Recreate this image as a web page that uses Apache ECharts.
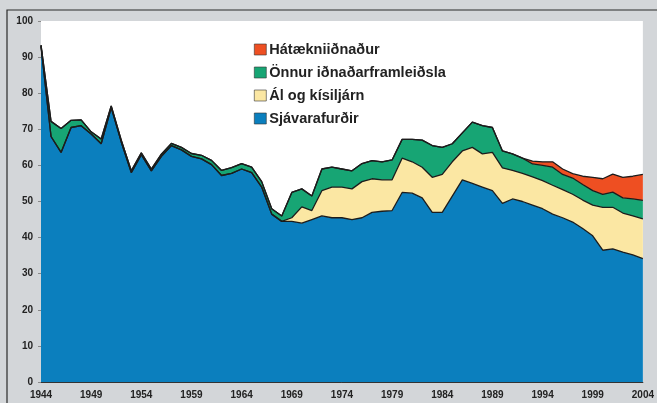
<!DOCTYPE html>
<html>
<head>
<meta charset="utf-8">
<script src="https://cdn.jsdelivr.net/npm/echarts@6/dist/echarts.min.js"></script>
<style>
  html, body { margin: 0; padding: 0; background: #d3d6d9; }
  #chart { width: 657px; height: 403px; }
</style>
</head>
<body>
<div id="chart"></div>
<script>
// Ár 1944-2004
const years = [];
for (let y = 1944; y <= 2004; y++) years.push(String(y));

// Hlutdeild í vöruútflutningi (%), lesið af mynd
const sjavarafurdir = [
  93, 68, 63.6, 70.5, 71, 68.7, 66, 76, 66.5, 58,
  63, 58.5, 62.5, 65.5, 64.3, 62.5, 61.8, 60.2, 57.2, 57.8,
  59, 58, 54, 46.5, 44.5, 44.5, 44, 45, 46, 45.5,
  45.5, 45, 45.5, 47, 47.3, 47.5, 52.5, 52.3, 51, 47,
  47, 51.5, 56, 55, 54, 53, 49.5, 50.7, 50, 49,
  48, 46.5, 45.5, 44.3, 42.5, 40.5, 36.5, 36.9, 36, 35.2,
  34.2
];
const alKisiljarn = [
  0, 0, 0, 0, 0, 0, 0, 0, 0, 0,
  0, 0, 0, 0, 0, 0, 0, 0, 0, 0,
  0, 0, 0, 0, 0, 1, 4.5, 2.5, 7, 8.5,
  8.5, 8.5, 10, 9.3, 8.7, 8.5, 9.5, 8.7, 8.5, 9.7,
  10.5, 9.5, 8, 10, 9.2, 10.6, 9.8, 7.9, 7.8, 7.8,
  7.8, 8, 7.8, 7.7, 7.9, 8.5, 11.9, 11.5, 10.8, 10.8,
  11
];
const onnurIdnadur = [
  0.3, 4.2, 6.6, 2, 1.6, 0.6, 1.3, 0.5, 0.5, 0.5,
  0.5, 0.5, 0.6, 0.6, 0.7, 0.8, 1, 1.2, 1.4, 1.6,
  1.5, 1.5, 1.5, 1.5, 1.5, 7, 5, 4, 6, 5.5,
  5, 5, 5, 5, 5, 5.5, 5.2, 6.2, 7.5, 8.8,
  7.5, 5, 5, 7, 7.8, 6.9, 4.7, 4.6, 4.2, 3.6,
  4.2, 5, 4.2, 4.5, 4.3, 4, 3.6, 4.2, 4.2, 4.7,
  5.1
];
const haTaekni = [
  0, 0, 0, 0, 0, 0, 0, 0, 0, 0,
  0, 0, 0, 0, 0, 0, 0, 0, 0, 0,
  0, 0, 0, 0, 0, 0, 0, 0, 0, 0,
  0, 0, 0, 0, 0, 0, 0, 0, 0, 0,
  0, 0, 0, 0, 0, 0, 0, 0, 0, 0.8,
  1, 1.5, 1.5, 1.2, 2.3, 3.7, 4.3, 5, 5.7, 6.3,
  7.2
];

const yTicks = [0, 10, 20, 30, 40, 50, 60, 70, 80, 90, 100];

const chart = echarts.init(document.getElementById('chart'));

// sameiginlegt útlit fyrir flatarlögin
function layer(name, data, color) {
  return {
    name: name,
    type: 'line',
    stack: 'alls',
    data: data,
    symbol: 'none',
    itemStyle: { color: color },
    lineStyle: { color: '#1c1c1c', width: 1.3 },
    areaStyle: { color: color, opacity: 1 }
  };
}

chart.setOption({
  backgroundColor: '#d3d6d9',
  animation: false,
  textStyle: { fontFamily: 'Liberation Sans, Arial, sans-serif' },
  grid: {
    left: 41, right: 10, top: 21, bottom: 21,
    show: true, backgroundColor: '#ffffff', borderWidth: 0
  },
  legend: {
    orient: 'vertical',
    left: 249,
    top: 37,
    itemGap: 8,
    itemWidth: 12,
    itemHeight: 11,
    icon: 'rect',
    itemStyle: { borderColor: '#333', borderWidth: 0.6 },
    textStyle: { fontSize: 14.5, fontWeight: 'bold', color: '#222', padding: [0, 0, 0, -2] },
    data: ['Hátækniiðnaður', 'Önnur iðnaðarframleiðsla', 'Ál og kísiljárn', 'Sjávarafurðir']
  },
  xAxis: {
    type: 'category',
    data: years,
    boundaryGap: false,
    axisLine: { lineStyle: { color: '#333', width: 1 } },
    axisTick: { show: false },
    axisLabel: {
      interval: 4,
      fontSize: 10,
      fontWeight: 'bold',
      color: '#222',
      margin: 8
    }
  },
  yAxis: {
    type: 'value',
    min: yTicks[0],
    max: yTicks[yTicks.length - 1],
    interval: 10,
    splitLine: { show: false },
    axisLine: { show: false },
    axisTick: { show: true, length: 3, lineStyle: { color: '#888' } },
    axisLabel: { fontSize: 10, fontWeight: 'bold', color: '#222', margin: 8 }
  },
  graphic: [{
    type: 'rect',
    shape: { x: 7, y: 10, width: 680, height: 420 },
    style: { fill: 'none', stroke: '#2a2a2a', lineWidth: 1.2 },
    silent: true,
    z: 100
  }],
  series: [
    layer('Sjávarafurðir', sjavarafurdir, '#0b7fbe'),
    layer('Ál og kísiljárn', alKisiljarn, '#fbe7a3'),
    layer('Önnur iðnaðarframleiðsla', onnurIdnadur, '#17a574'),
    layer('Hátækniiðnaður', haTaekni, '#ee4f22')
  ]
});
</script>
</body>
</html>
